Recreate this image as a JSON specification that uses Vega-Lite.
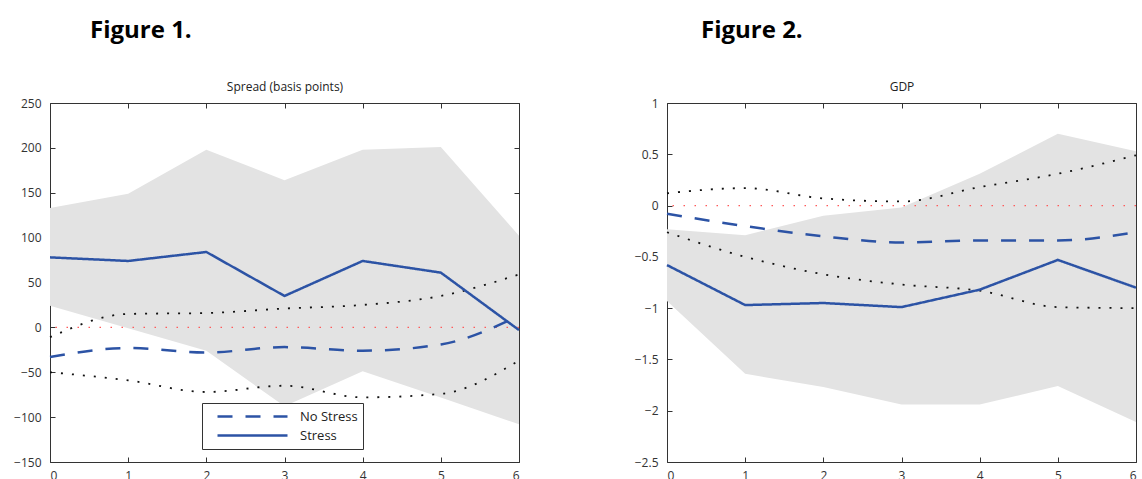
{
  "$schema": "https://vega.github.io/schema/vega-lite/v6.json",
  "background": "white",
  "padding": {"left": 13, "top": 18, "right": 0, "bottom": 0},
  "autosize": {"type": "pad"},
  "spacing": 148,
  "bounds": "flush",
  "config": {
    "view": {"stroke": "#333333", "strokeWidth": 1},
    "axis": {
      "grid": false,
      "domain": false,
      "tickColor": "#333333",
      "tickSize": -5,
      "labelFont": "Open Sans",
      "labelFontSize": 12,
      "labelColor": "#333333",
      "titleFont": "Open Sans",
      "titleFontSize": 12,
      "titleFontWeight": "normal",
      "titleColor": "#222222"
    }
  },
  "resolve": {"scale": {"strokeDash": "independent"}, "legend": {"strokeDash": "independent"}},
  "datasets": {
    "spread_band": [
      {"x": 0, "lo": 24, "hi": 133},
      {"x": 1, "lo": -1, "hi": 149},
      {"x": 2, "lo": -26, "hi": 198},
      {"x": 3, "lo": -88, "hi": 164},
      {"x": 4, "lo": -49, "hi": 198},
      {"x": 5, "lo": -78, "hi": 201},
      {"x": 6, "lo": -108, "hi": 102}
    ],
    "spread_bounds": [
      {"x": 0, "series": "upper", "v": -11},
      {"x": 1, "series": "upper", "v": 15},
      {"x": 2, "series": "upper", "v": 16},
      {"x": 3, "series": "upper", "v": 21},
      {"x": 4, "series": "upper", "v": 25},
      {"x": 5, "series": "upper", "v": 35},
      {"x": 6, "series": "upper", "v": 59},
      {"x": 0, "series": "lower", "v": -50},
      {"x": 1, "series": "lower", "v": -59},
      {"x": 2, "series": "lower", "v": -72},
      {"x": 3, "series": "lower", "v": -65},
      {"x": 4, "series": "lower", "v": -78},
      {"x": 5, "series": "lower", "v": -74},
      {"x": 6, "series": "lower", "v": -37}
    ],
    "spread_paths": [
      {"x": 0, "series": "No Stress", "v": -33},
      {"x": 1, "series": "No Stress", "v": -23},
      {"x": 2, "series": "No Stress", "v": -28},
      {"x": 3, "series": "No Stress", "v": -22},
      {"x": 4, "series": "No Stress", "v": -26},
      {"x": 5, "series": "No Stress", "v": -19},
      {"x": 6, "series": "No Stress", "v": 13},
      {"x": 0, "series": "Stress", "v": 78},
      {"x": 1, "series": "Stress", "v": 74},
      {"x": 2, "series": "Stress", "v": 84},
      {"x": 3, "series": "Stress", "v": 35},
      {"x": 4, "series": "Stress", "v": 74},
      {"x": 5, "series": "Stress", "v": 61},
      {"x": 6, "series": "Stress", "v": -3}
    ],
    "gdp_band": [
      {"x": 0, "lo": -0.93, "hi": -0.23},
      {"x": 1, "lo": -1.64, "hi": -0.29},
      {"x": 2, "lo": -1.77, "hi": -0.1},
      {"x": 3, "lo": -1.94, "hi": -0.02},
      {"x": 4, "lo": -1.94, "hi": 0.31},
      {"x": 5, "lo": -1.76, "hi": 0.7},
      {"x": 6, "lo": -2.11, "hi": 0.53}
    ],
    "gdp_bounds": [
      {"x": 0, "series": "upper", "v": 0.12},
      {"x": 1, "series": "upper", "v": 0.17},
      {"x": 2, "series": "upper", "v": 0.07},
      {"x": 3, "series": "upper", "v": 0.04},
      {"x": 4, "series": "upper", "v": 0.18},
      {"x": 5, "series": "upper", "v": 0.31},
      {"x": 6, "series": "upper", "v": 0.49},
      {"x": 0, "series": "lower", "v": -0.26},
      {"x": 1, "series": "lower", "v": -0.5},
      {"x": 2, "series": "lower", "v": -0.67},
      {"x": 3, "series": "lower", "v": -0.77},
      {"x": 4, "series": "lower", "v": -0.83},
      {"x": 5, "series": "lower", "v": -0.99},
      {"x": 6, "series": "lower", "v": -1.0}
    ],
    "gdp_paths": [
      {"x": 0, "series": "No Stress", "v": -0.08},
      {"x": 1, "series": "No Stress", "v": -0.2},
      {"x": 2, "series": "No Stress", "v": -0.3},
      {"x": 3, "series": "No Stress", "v": -0.36},
      {"x": 4, "series": "No Stress", "v": -0.34},
      {"x": 5, "series": "No Stress", "v": -0.34},
      {"x": 6, "series": "No Stress", "v": -0.26},
      {"x": 0, "series": "Stress", "v": -0.58},
      {"x": 1, "series": "Stress", "v": -0.97},
      {"x": 2, "series": "Stress", "v": -0.95},
      {"x": 3, "series": "Stress", "v": -0.99},
      {"x": 4, "series": "Stress", "v": -0.82},
      {"x": 5, "series": "Stress", "v": -0.53},
      {"x": 6, "series": "Stress", "v": -0.8}
    ],
    "zero": [{"v": 0}]
  },
  "hconcat": [
    {
      "width": 469,
      "height": 359,
      "title": {"text": "Figure 1.", "anchor": "start", "frame": "group", "dx": 40, "font": "Open Sans", "fontSize": 24, "fontWeight": "bold", "color": "#000000", "offset": 38},
      "resolve": {"axis": {"x": "independent", "y": "independent"}},
      "layer": [
        {
          "data": {"name": "spread_band"},
          "mark": {"type": "area", "color": "#e3e3e3"},
          "encoding": {
            "x": {"field": "x", "type": "quantitative", "scale": {"domain": [0, 6], "nice": false, "zero": false}, "axis": {"orient": "bottom", "values": [0, 1, 2, 3, 4, 5, 6], "title": null, "labelPadding": 13}},
            "y": {"field": "hi", "type": "quantitative", "scale": {"domain": [-150, 250], "nice": false, "zero": false}, "axis": {"orient": "left", "values": [-150, -100, -50, 0, 50, 100, 150, 200, 250], "title": null, "labelPadding": 14}},
            "y2": {"field": "lo"}
          }
        },
        {
          "data": {"name": "zero"},
          "mark": {"type": "rule", "color": "#ff5a5a", "strokeWidth": 1.2, "strokeDash": [1.5, 9.5]},
          "encoding": {"y": {"field": "v", "type": "quantitative", "axis": null}}
        },
        {
          "data": {"name": "spread_bounds"},
          "mark": {"type": "line", "color": "#111111", "strokeWidth": 1.8, "strokeDash": [2, 9], "interpolate": "monotone"},
          "encoding": {
            "x": {"field": "x", "type": "quantitative", "axis": {"orient": "top", "values": [0, 1, 2, 3, 4, 5, 6], "labels": false, "title": "Spread (basis points)", "titlePadding": 9}},
            "y": {"field": "v", "type": "quantitative", "axis": {"orient": "right", "values": [-150, -100, -50, 0, 50, 100, 150, 200, 250], "labels": false, "title": null}},
            "detail": {"field": "series"}
          }
        },
        {
          "data": {"name": "spread_paths"},
          "transform": [{"filter": "datum.series === 'No Stress'"}],
          "mark": {"type": "line", "color": "#2c53a5", "strokeWidth": 2.5, "interpolate": "monotone"},
          "encoding": {
            "x": {"field": "x", "type": "quantitative", "axis": null},
            "y": {"field": "v", "type": "quantitative", "axis": null},
            "strokeDash": {
              "field": "series", "type": "nominal",
              "scale": {"domain": ["No Stress", "Stress"], "range": [[15, 13], [1, 0]]},
              "legend": {
                "orient": "none", "legendX": 152, "legendY": 300, "title": null,
                "symbolType": "stroke", "symbolSize": 4900, "symbolStrokeWidth": 2.5, "symbolStrokeColor": "#2c53a5",
                "clipHeight": 17, "rowPadding": 2, "padding": 5, "symbolOffset": 9, "labelOffset": 11,
                "labelFont": "Open Sans", "labelFontSize": 13, "labelColor": "#222222",
                "strokeColor": "#333333", "fillColor": "white"
              }
            }
          }
        },
        {
          "data": {"name": "spread_paths"},
          "transform": [{"filter": "datum.series === 'Stress'"}],
          "mark": {"type": "line", "color": "#2c53a5", "strokeWidth": 2.5},
          "encoding": {
            "x": {"field": "x", "type": "quantitative", "axis": null},
            "y": {"field": "v", "type": "quantitative", "axis": null},
            "strokeDash": {"field": "series", "type": "nominal"}
          }
        }
      ]
    },
    {
      "width": 469,
      "height": 359,
      "title": {"text": "Figure 2.", "anchor": "start", "frame": "group", "dx": 34, "font": "Open Sans", "fontSize": 24, "fontWeight": "bold", "color": "#000000", "offset": 38},
      "resolve": {"axis": {"x": "independent", "y": "independent"}},
      "layer": [
        {
          "data": {"name": "gdp_band"},
          "mark": {"type": "area", "color": "#e3e3e3"},
          "encoding": {
            "x": {"field": "x", "type": "quantitative", "scale": {"domain": [0, 6], "nice": false, "zero": false}, "axis": {"orient": "bottom", "values": [0, 1, 2, 3, 4, 5, 6], "title": null, "labelPadding": 13}},
            "y": {"field": "hi", "type": "quantitative", "scale": {"domain": [-2.5, 1], "nice": false, "zero": false}, "axis": {"orient": "left", "values": [-2.5, -2, -1.5, -1, -0.5, 0, 0.5, 1], "format": "~g", "title": null, "labelPadding": 14}},
            "y2": {"field": "lo"}
          }
        },
        {
          "data": {"name": "zero"},
          "mark": {"type": "rule", "color": "#ff5a5a", "strokeWidth": 1.2, "strokeDash": [1.5, 9.5]},
          "encoding": {"y": {"field": "v", "type": "quantitative", "axis": null}}
        },
        {
          "data": {"name": "gdp_bounds"},
          "mark": {"type": "line", "color": "#111111", "strokeWidth": 1.8, "strokeDash": [2, 9], "interpolate": "monotone"},
          "encoding": {
            "x": {"field": "x", "type": "quantitative", "axis": {"orient": "top", "values": [0, 1, 2, 3, 4, 5, 6], "labels": false, "title": "GDP", "titlePadding": 9}},
            "y": {"field": "v", "type": "quantitative", "axis": {"orient": "right", "values": [-2.5, -2, -1.5, -1, -0.5, 0, 0.5, 1], "labels": false, "title": null}},
            "detail": {"field": "series"}
          }
        },
        {
          "data": {"name": "gdp_paths"},
          "transform": [{"filter": "datum.series === 'No Stress'"}],
          "mark": {"type": "line", "color": "#2c53a5", "strokeWidth": 2.5, "interpolate": "monotone"},
          "encoding": {
            "x": {"field": "x", "type": "quantitative", "axis": null},
            "y": {"field": "v", "type": "quantitative", "axis": null},
            "strokeDash": {
              "field": "series", "type": "nominal",
              "scale": {"domain": ["No Stress", "Stress"], "range": [[15, 13], [1, 0]]},
              "legend": null
            }
          }
        },
        {
          "data": {"name": "gdp_paths"},
          "transform": [{"filter": "datum.series === 'Stress'"}],
          "mark": {"type": "line", "color": "#2c53a5", "strokeWidth": 2.5},
          "encoding": {
            "x": {"field": "x", "type": "quantitative", "axis": null},
            "y": {"field": "v", "type": "quantitative", "axis": null},
            "strokeDash": {"field": "series", "type": "nominal", "legend": null}
          }
        }
      ]
    }
  ]
}
